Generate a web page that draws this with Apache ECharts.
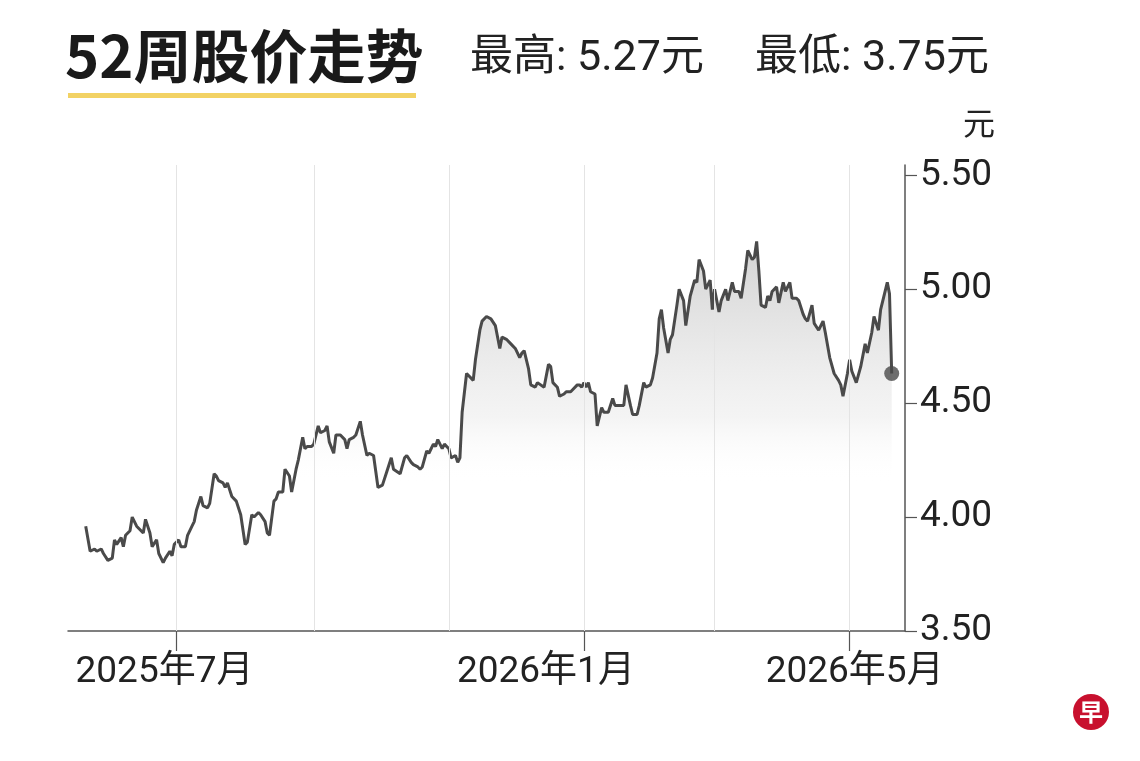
<!DOCTYPE html>
<html><head><meta charset="utf-8">
<script src="https://cdn.jsdelivr.net/npm/echarts@6/dist/echarts.min.js"></script>
<style>html,body{margin:0;padding:0;background:#fff;}#c{width:1140px;height:761px;}</style>
</head><body><div id="c"></div>
<script>
const titleText = '52周股价走势';
const highText = '最高: 5.27元';
const lowText = '最低: 3.75元';
const unitLabel = '元';
const logoText = '早';

const dates = [
'2025-05-21','2025-05-23','2025-05-25','2025-05-26','2025-05-28','2025-05-29','2025-05-31',
'2025-06-02','2025-06-03','2025-06-04','2025-06-06','2025-06-07','2025-06-08','2025-06-10','2025-06-11','2025-06-13','2025-06-14','2025-06-16','2025-06-17','2025-06-19','2025-06-20','2025-06-22','2025-06-23','2025-06-25','2025-06-26','2025-06-28','2025-06-29','2025-06-30',
'2025-07-02','2025-07-03','2025-07-05','2025-07-06','2025-07-08','2025-07-09','2025-07-10','2025-07-12','2025-07-13','2025-07-15','2025-07-16','2025-07-18','2025-07-19','2025-07-20','2025-07-22','2025-07-23','2025-07-24','2025-07-26','2025-07-28','2025-07-30',
'2025-08-01','2025-08-02','2025-08-04','2025-08-05','2025-08-07','2025-08-08','2025-08-10','2025-08-11','2025-08-12','2025-08-14','2025-08-15','2025-08-16','2025-08-18','2025-08-19','2025-08-21','2025-08-22','2025-08-24','2025-08-25','2025-08-27','2025-08-28','2025-08-29','2025-08-31',
'2025-09-01','2025-09-03','2025-09-04','2025-09-06','2025-09-07','2025-09-08','2025-09-10','2025-09-11','2025-09-13','2025-09-15','2025-09-16','2025-09-17','2025-09-19','2025-09-20','2025-09-22','2025-09-23','2025-09-25','2025-09-26','2025-09-28','2025-09-29','2025-09-30',
'2025-10-02','2025-10-04','2025-10-06','2025-10-07','2025-10-10','2025-10-12','2025-10-13','2025-10-15','2025-10-16','2025-10-18','2025-10-19','2025-10-20','2025-10-22','2025-10-23','2025-10-25','2025-10-26','2025-10-27','2025-10-29','2025-10-30',
'2025-11-01','2025-11-02','2025-11-04','2025-11-05','2025-11-06','2025-11-07','2025-11-09','2025-11-10','2025-11-12','2025-11-13','2025-11-15','2025-11-16','2025-11-18','2025-11-20','2025-11-22','2025-11-23','2025-11-24','2025-11-25','2025-11-27','2025-11-29',
'2025-12-01','2025-12-03','2025-12-04','2025-12-05','2025-12-07','2025-12-08','2025-12-10','2025-12-11','2025-12-14','2025-12-16','2025-12-17','2025-12-18','2025-12-20','2025-12-21','2025-12-23','2025-12-24','2025-12-26','2025-12-27','2025-12-29','2025-12-30','2025-12-31',
'2026-01-01','2026-01-02','2026-01-03','2026-01-04','2026-01-06','2026-01-07','2026-01-09','2026-01-10','2026-01-12','2026-01-14','2026-01-15','2026-01-17','2026-01-19','2026-01-20','2026-01-22','2026-01-23','2026-01-25','2026-01-26','2026-01-28','2026-01-29','2026-01-31',
'2026-02-01','2026-02-03','2026-02-04','2026-02-05','2026-02-06','2026-02-08','2026-02-09','2026-02-10','2026-02-12','2026-02-13','2026-02-15','2026-02-16','2026-02-18','2026-02-20','2026-02-21','2026-02-22','2026-02-24','2026-02-25','2026-02-27','2026-02-28',
'2026-03-01','2026-03-03','2026-03-04','2026-03-06','2026-03-07','2026-03-09','2026-03-10','2026-03-12','2026-03-13','2026-03-15','2026-03-16','2026-03-18','2026-03-19','2026-03-20','2026-03-21','2026-03-22','2026-03-24','2026-03-25','2026-03-26','2026-03-27','2026-03-29','2026-03-30',
'2026-04-01','2026-04-02','2026-04-04','2026-04-05','2026-04-07','2026-04-08','2026-04-10','2026-04-11','2026-04-12','2026-04-14','2026-04-15','2026-04-17','2026-04-19','2026-04-20','2026-04-22','2026-04-24','2026-04-26','2026-04-27','2026-04-28','2026-04-30',
'2026-05-01','2026-05-02','2026-05-04','2026-05-06','2026-05-08','2026-05-09','2026-05-11','2026-05-12','2026-05-14','2026-05-15','2026-05-18','2026-05-19','2026-05-20'
];

const prices = [
3.96,3.85,3.86,3.85,3.86,3.84,3.81,
3.82,3.90,3.88,3.91,3.87,3.92,3.94,4.00,3.96,3.95,3.93,3.99,3.93,3.87,3.90,3.84,3.80,3.82,3.85,3.83,3.88,
3.90,3.87,3.87,3.92,3.96,3.98,4.03,4.09,4.05,4.04,4.06,4.19,4.18,4.16,4.15,4.13,4.15,4.09,4.07,4.01,
3.88,3.89,4.01,4.00,4.02,4.01,3.98,3.93,3.92,4.07,4.08,4.11,4.11,4.21,4.18,4.11,4.21,4.25,4.35,4.30,4.31,4.31,
4.32,4.40,4.37,4.38,4.40,4.33,4.28,4.36,4.36,4.34,4.30,4.34,4.35,4.36,4.42,4.36,4.27,4.28,4.27,4.20,4.13,
4.14,4.20,4.26,4.21,4.19,4.26,4.27,4.24,4.23,4.22,4.21,4.22,4.29,4.28,4.32,4.31,4.34,4.30,4.32,
4.30,4.26,4.27,4.24,4.26,4.46,4.63,4.62,4.60,4.69,4.82,4.86,4.88,4.87,4.84,4.79,4.74,4.79,4.78,4.76,
4.74,4.70,4.72,4.73,4.65,4.58,4.57,4.59,4.57,4.67,4.66,4.59,4.57,4.53,4.54,4.55,4.55,4.56,4.58,4.58,4.57,
4.59,4.57,4.59,4.55,4.54,4.40,4.48,4.46,4.46,4.52,4.49,4.49,4.49,4.58,4.49,4.45,4.45,4.49,4.59,4.57,4.58,
4.61,4.72,4.87,4.91,4.83,4.72,4.78,4.80,4.93,5.00,4.95,4.84,4.97,5.04,5.03,5.13,5.08,5.00,5.04,4.91,
5.00,4.90,4.95,5.00,4.95,5.03,4.99,4.99,4.96,5.09,5.17,5.13,5.14,5.21,5.08,4.93,4.92,4.97,4.95,4.99,5.01,4.94,
5.03,4.99,5.03,4.96,4.96,4.95,4.89,4.87,4.86,4.93,4.85,4.82,4.86,4.81,4.70,4.63,4.60,4.58,4.53,4.63,
4.69,4.64,4.59,4.66,4.76,4.72,4.81,4.88,4.82,4.91,5.03,4.98,4.63
];

const xTickDates = ['2025-07-01','2026-01-01','2026-05-01'];
const xTickLabels = ['2025年7月','2026年1月','2026年5月'];
const gridDates = ['2025-07-01','2025-09-01','2025-11-01','2026-01-01','2026-03-01','2026-05-01'];
const yTicks = [3.5, 4.0, 4.5, 5.0, 5.5];

function toTs(s) { const p = s.split('-').map(Number); return new Date(p[0], p[1] - 1, p[2]).getTime(); }

const seriesData = dates.map((d, i) => [toTs(d), prices[i]]);
const last = seriesData[seriesData.length - 1];
const xTickTs = xTickDates.map(toTs);

const chart = echarts.init(document.getElementById('c'));
chart.setOption({
  animation: false,
  backgroundColor: '#fff',
  title: [
    { text: titleText, left: 65, top: 27, padding: 0,
      textStyle: { fontSize: 58, fontWeight: 'bold', color: '#1a1a1a', fontFamily: 'Noto Sans CJK SC' } },
    { text: highText, left: 470, top: 38, padding: 0,
      textStyle: { fontSize: 43, fontWeight: 'normal', color: '#222', fontFamily: 'Roboto, Noto Sans CJK SC' } },
    { text: lowText, left: 755, top: 38, padding: 0,
      textStyle: { fontSize: 43, fontWeight: 'normal', color: '#222', fontFamily: 'Roboto, Noto Sans CJK SC' } }
  ],
  grid: { left: 68, right: 235, top: 165, bottom: 130, containLabel: false },
  xAxis: {
    type: 'value',
    min: toTs('2025-05-13'),
    max: toTs('2026-05-26'),
    axisLine: { show: true, lineStyle: { color: '#555', width: 1.5 } },
    axisTick: { show: true, length: 20, customValues: xTickTs, lineStyle: { color: '#555', width: 1.2 } },
    axisLabel: {
      customValues: xTickTs,
      margin: 23,
      fontSize: 37,
      color: '#222',
      fontFamily: 'Roboto, Noto Sans CJK SC',
      formatter: function (val) {
        const i = xTickTs.indexOf(val);
        if (i < 0) return '';
        return '{s' + i + '|' + xTickLabels[i] + '}';
      },
      rich: {
        s0: { padding: [0, 24, 0, 0] },
        s1: { padding: [0, 76, 0, 0] },
        s2: { padding: [0, 0, 0, 10] }
      }
    },
    splitLine: { show: false }
  },
  yAxis: {
    type: 'value',
    position: 'right',
    min: 3.5,
    max: 5.545,
    name: unitLabel,
    nameLocation: 'end',
    nameGap: 26,
    nameTextStyle: { fontSize: 32, color: '#222', align: 'left', padding: [0, 0, 0, 58], fontFamily: 'Noto Sans CJK SC' },
    axisLine: { show: true, lineStyle: { color: '#555', width: 1.5 } },
    axisTick: { show: true, inside: false, length: 12, customValues: yTicks, lineStyle: { color: '#555', width: 1.2 } },
    axisLabel: {
      customValues: yTicks,
      margin: 15,
      fontSize: 37,
      color: '#222',
      padding: [6, 0, 0, 0],
      fontFamily: 'Roboto, Noto Sans',
      formatter: v => v.toFixed(2)
    },
    splitLine: { show: false }
  },
  graphic: [
    { type: 'rect', left: 68, top: 93, shape: { width: 348, height: 5 }, style: { fill: '#f2d264' } },
    { type: 'circle', shape: { cx: 1091, cy: 712, r: 18 }, style: { fill: '#c8102e' } },
    { type: 'text', x: 1091, y: 712, style: { text: logoText, fill: '#fff', fontSize: 24, fontWeight: 'bold', fontFamily: 'Noto Sans CJK SC', align: 'center', verticalAlign: 'middle' } }
  ],
  series: [
    {
      type: 'line', data: [], z: 1, silent: true,
      markLine: {
        silent: true, symbol: 'none', label: { show: false },
        lineStyle: { color: '#e4e4e4', width: 1, type: 'solid' },
        data: gridDates.map(d => ({ xAxis: toTs(d) }))
      }
    },
    {
      type: 'line', data: seriesData, z: 3,
      showSymbol: false, smooth: false,
      lineStyle: { color: '#4a4a4a', width: 3 },
      areaStyle: {
        origin: 'start',
        color: new echarts.graphic.LinearGradient(0, 0, 0, 1, [
          { offset: 0, color: 'rgba(170,170,170,0.75)' },
          { offset: 0.45, color: 'rgba(220,220,220,0.45)' },
          { offset: 0.62, color: 'rgba(255,255,255,0)' },
          { offset: 1, color: 'rgba(255,255,255,0)' }
        ])
      }
    },
    {
      type: 'scatter', data: [last], z: 5, symbolSize: 15,
      itemStyle: { color: '#4a4a4a' }
    }
  ]
});
</script></body></html>
